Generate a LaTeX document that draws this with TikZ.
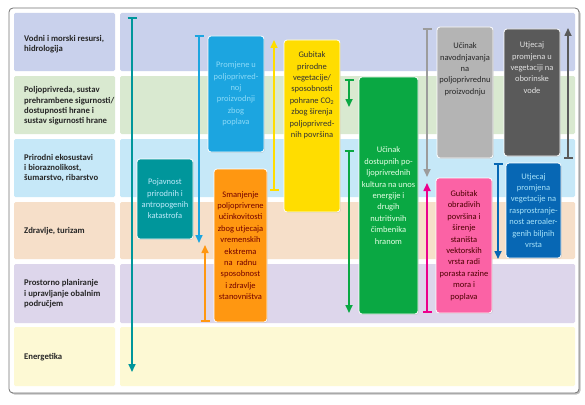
\documentclass[tikz,border=0pt]{standalone}
\usepackage{fontspec}
\setmainfont{Carlito}
\usetikzlibrary{arrows.meta,shadows,positioning}
\definecolor{rowA}{HTML}{C9D1EC}
\definecolor{rowB}{HTML}{D9E9D0}
\definecolor{rowC}{HTML}{C6E8F8}
\definecolor{rowD}{HTML}{F6DFC9}
\definecolor{rowE}{HTML}{DDD6EB}
\definecolor{rowF}{HTML}{FDF9D4}
\definecolor{tealc}{HTML}{00969B}
\definecolor{bluec}{HTML}{1CA5E0}
\definecolor{orangec}{HTML}{FF9711}
\definecolor{yellowc}{HTML}{FFDD00}
\definecolor{greenc}{HTML}{0AA843}
\definecolor{greyc}{HTML}{B4B4B4}
\definecolor{pinkc}{HTML}{FB62A5}
\definecolor{dgreyc}{HTML}{5A5A5A}
\definecolor{dbluec}{HTML}{0767B4}
\definecolor{pinkarr}{HTML}{EC008C}
\definecolor{greyarr}{HTML}{9C9C9C}

\tikzset{
  rowlabel/.style={anchor=west, align=left, inner sep=0pt,
    font=\bfseries\fontsize{8.7}{10.4}\selectfont, text=black!85},
  cbox/.style={rounded corners=3pt, draw=white, line width=0.8pt, inner sep=0pt,
    align=center, font=\fontsize{8.5}{11.4}\selectfont,
    drop shadow={opacity=0.25, shadow xshift=0.8pt, shadow yshift=-0.8pt}},
  boxtext/.style={inner sep=0pt, align=center, font=\fontsize{8.5}{11.4}\selectfont},
  flow/.style={line width=1.6pt, arrows={Bar[width=9pt]-Triangle[width=7pt,length=8pt]}}
}

\begin{document}
\begin{tikzpicture}[x=1pt, y=-1pt]
  \useasboundingbox (0,0) rectangle (585,404);

  %% frame
  \fill[black!25, rounded corners=4pt] (10.5,9.5) rectangle (580.5,394.5);
  \draw[black!55, fill=white, rounded corners=4pt, line width=0.8pt] (9,8) rectangle (579,393);

  %% rows
  \foreach \yt/\yb/\col in {13/71/rowA, 76/134/rowB, 139/197/rowC,
                            202/259/rowD, 264/323/rowE, 327/386/rowF} {
    \fill[\col, rounded corners=1.5pt] (14,\yt) rectangle (115,\yb);
    \fill[\col, rounded corners=1.5pt] (120,\yt) rectangle (575,\yb);
  }

  %% row labels
  \node[rowlabel] (vode) at (24,44) {Vodni i morski resursi,\\hidrologija};
  \node[rowlabel] (poljo) at (24,106) {Poljoprivreda, sustav\\prehrambene sigurnosti/\\dostupnosti hrane i\\sustav sigurnosti hrane};
  \node[rowlabel] (eko) at (24,168) {Prirodni ekosustavi\\i bioraznolikost,\\šumarstvo, ribarstvo};
  \node[rowlabel] (zdravlje) at (24,231) {Zdravlje, turizam};
  \node[rowlabel] (prostor) at (24,294) {Prostorno planiranje\\i upravljanje obalnim\\područjem};
  \node[rowlabel] (energ) at (24,357) {Energetika};

  %% boxes
  \node[cbox, fill=tealc, text=cyan!25, minimum width=56pt, minimum height=80pt]
    (katastrofe) at (165,199) {Pojavnost\\prirodnih i\\antropogenih\\katastrofa};
  \node[cbox, fill=bluec, text=cyan!45, minimum width=56pt, minimum height=116pt]
    (poplave) at (236,94) {Promjene u\\poljoprivred-\\noj\\proizvodnji\\zbog\\poplava};
  \node[cbox, fill=orangec, text=red!45!black, minimum width=53pt, minimum height=153pt]
    (ekstremi) at (240.5,245.5) {Smanjenje\\poljoprivrene\\učinkovitosti\\zbog utjecaja\\vremenskih\\ekstrema\\na~~radnu\\sposobnost\\i zdravlje\\stanovništva};
  \node[cbox, fill=yellowc, minimum width=56pt, minimum height=172pt]
    (vegetacija) at (312,126) {};
  \node[boxtext, text=black!80, below=12pt of vegetacija.north]
    (vegetacijaT) {Gubitak\\prirodne\\vegetacije/\\sposobnosti\\pohrane CO\textsubscript{2}\\zbog širenja\\poljoprivred-\\nih površina};
  \node[cbox, fill=greenc, text=green!10, minimum width=59pt, minimum height=237pt]
    (kulture) at (388.5,195.5) {Učinak\\dostupnih po-\\ljoprivrednih\\kultura na unos\\energije i\\drugih\\nutritivnih\\čimbenika\\hranom};
  \node[cbox, fill=greyc, minimum width=56pt, minimum height=131pt]
    (navodnj) at (465,92.5) {};
  \node[boxtext, text=black!85, below=16pt of navodnj.north]
    (navodnjT) {Učinak\\navodnjavanja\\na\\poljoprivrednu\\proizvodnju};
  \node[cbox, fill=pinkc, text=red!30!black, minimum width=56pt, minimum height=135pt]
    (obradive) at (464,245.5) {Gubitak\\obradivih\\površina i\\širenje\\staništa\\vektorskih\\vrsta radi\\porasta razine\\mora i\\poplava};
  \node[cbox, fill=dgreyc, minimum width=56pt, minimum height=127pt]
    (oborine) at (532,92.5) {};
  \node[boxtext, text=black!12, below=13pt of oborine.north]
    (oborineT) {Utjecaj\\promjena u\\vegetaciji na\\oborinske\\vode};
  \node[cbox, fill=dbluec, text=cyan!35, minimum width=55pt, minimum height=95pt]
    (alergeni) at (533.5,210.5) {Utjecaj\\promjena\\vegetacije na\\rasprostranje-\\nost aeroaler-\\genih biljnih\\vrsta};

  %% arrow ends
  \coordinate (tealT) at (132,17);   \coordinate (tealH) at (132,372);
  \coordinate (blueT) at (199,35);   \coordinate (blueH) at (199,243);
  \coordinate (oranT) at (205,322);  \coordinate (oranH) at (205,245);
  \coordinate (yellT) at (274,191);  \coordinate (yellH) at (274,40);
  \coordinate (grnaT) at (349,79);   \coordinate (grnaH) at (349,107);
  \coordinate (grnbT) at (349,150);  \coordinate (grnbH) at (349,313);
  \coordinate (greyT) at (427,28);   \coordinate (greyH) at (427,177);
  \coordinate (pinkT) at (427,313);  \coordinate (pinkH) at (427,183);
  \coordinate (dblT) at (498,163);   \coordinate (dblH) at (498,259);
  \coordinate (dgrT) at (568,159);   \coordinate (dgrH) at (568,28);

  %% arrows
  \draw[flow, tealc] (tealT) -- (tealH);
  \draw[flow, bluec] (blueT) -- (blueH);
  \draw[flow, orangec] (oranT) -- (oranH);
  \draw[flow, yellowc] (yellT) -- (yellH);
  \draw[flow, greenc] (grnaT) -- (grnaH);
  \draw[flow, greenc] (grnbT) -- (grnbH);
  \draw[flow, greyarr] (greyT) -- (greyH);
  \draw[flow, pinkarr] (pinkT) -- (pinkH);
  \draw[flow, dbluec] (dblT) -- (dblH);
  \draw[flow, dgreyc] (dgrT) -- (dgrH);
\end{tikzpicture}
\end{document}
